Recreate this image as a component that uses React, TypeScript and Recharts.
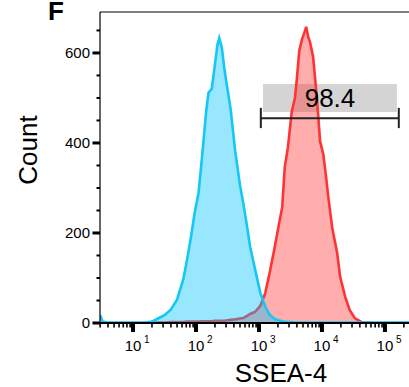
import React from "react";
import {
  ComposedChart,
  Area,
  XAxis,
  YAxis,
  ReferenceArea,
  ReferenceLine,
} from "recharts";

// fluorescence intensity (SSEA-4 channel), log axis
const intensity = [
  3.0, 3.3, 4, 6.3, 10, 16, 20, 25, 32, 40,
  50, 63, 72, 83, 95, 110, 129, 145, 158, 178,
  200, 219, 234, 257, 282, 316, 355, 417, 501, 562,
  646, 724, 871, 1050, 1260, 1480, 1780, 2000, 2340, 2570,
  2880, 3310, 3720, 3980, 4370, 4790, 5250, 5620, 6030, 6460,
  7240, 7940, 8710, 9330, 10500, 11500, 12600, 14500, 17400, 19500,
  23400, 27500, 33100, 42700, 63100, 100000, 158000, 269000,
];

// isotype / unstained control (blue)
const controlCounts = [
  18, 3, 1, 1, 1, 1, 3, 10, 18, 30,
  52, 98, 140, 190, 244, 290, 391, 470, 512, 520,
  575, 618, 633, 612, 565, 520, 475, 384, 305, 267,
  215, 169, 118, 67, 36, 18, 9, 6, 4, 3,
  2, 2, 1, 1, 1, 1, 1, 1, 1, 1,
  1, 1, 1, 1, 1, 1, 1, 1, 1, 1,
  1, 1, 1, 1, 1, 1, 1, 1,
];

// SSEA-4 stained (red)
const ssea4Counts = [
  0, 0, 0, 0, 0, 0, 1, 1, 1, 2,
  2, 2, 3, 3, 3, 3, 4, 4, 4, 4,
  5, 5, 5, 5, 5, 6, 7, 8, 10, 11,
  16, 20, 25, 38, 67, 112, 169, 207, 258, 347,
  390, 469, 500, 540, 605, 629, 645, 658, 636, 624,
  591, 530, 462, 404, 375, 330, 280, 213, 156, 102,
  58, 29, 11, 2, 0, 0, 0, 0,
];

const xMajorTicks = [10, 100, 1000, 10000, 100000];
const yTicks = [0, 50, 100, 150, 200, 250, 300, 350, 400, 450, 500, 550, 600, 650];
const yLabelTicks = [0, 200, 400, 600];

const gateLabel = "98.4";
const gateRange = [1070, 166000];
const gateLevel = 455;
const gateCap = [433, 478];
const gateBox = { x1: 1160, x2: 155000, y1: 469, y2: 531 };

const X_DOMAIN = [2.99, 269000];
const Y_MAX = 691;

const FONT = "'Liberation Sans', Arial, Helvetica, sans-serif";

const data = intensity.map((v, i) => ({
  intensity: v,
  control: controlCounts[i],
  ssea4: ssea4Counts[i],
}));

// minor ticks 2..9 x each decade inside the domain
const xMinorTicks: number[] = [];
for (let d = 1; d <= 100000; d *= 10) {
  for (let m = 2; m <= 9; m++) {
    const v = m * d;
    if (v >= X_DOMAIN[0] && v <= X_DOMAIN[1]) xMinorTicks.push(v);
  }
}
const xTicks = [...xMajorTicks, ...xMinorTicks].sort((a, b) => a - b);

function XTick(props: any) {
  const { x, y, payload } = props;
  const v = payload.value;
  if (!xMajorTicks.includes(v)) {
    return <line x1={x} x2={x} y1={y} y2={y + 4.5} stroke="#000" strokeWidth={1.6} />;
  }
  const exp = Math.round(Math.log10(v));
  return (
    <g>
      <rect x={x - 2} y={y} width={4} height={9} fill="#000" />
      <text x={x} y={y + 28} textAnchor="middle" fontSize={15} fontFamily={FONT} fill="#000">
        10
      </text>
      <text x={x + 11} y={y + 20} fontSize={10} fontFamily={FONT} fill="#000">
        {exp}
      </text>
    </g>
  );
}

function YTick(props: any) {
  const { x, y, payload } = props;
  const v = payload.value;
  if (!yLabelTicks.includes(v)) {
    return <line x1={x - 3.5} x2={x} y1={y} y2={y} stroke="#000" strokeWidth={2} />;
  }
  return (
    <g>
      <rect x={x - 7.5} y={y - 1.5} width={7.5} height={3} fill="#000" />
      <text x={x - 10} y={y + 5} textAnchor="end" fontSize={15} fontFamily={FONT} fill="#000">
        {v}
      </text>
    </g>
  );
}

export default function App() {
  return (
    <div
      style={{
        position: "absolute",
        left: 0,
        top: 0,
        width: 409,
        height: 387,
        overflow: "hidden",
        background: "#fff",
      }}
    >
      <div
        style={{
          position: "absolute",
          left: 48,
          top: -4,
          fontFamily: FONT,
          fontWeight: "bold",
          fontSize: 26,
        }}
      >
        F
      </div>
      <ComposedChart
        width={420}
        height={387}
        data={data}
        margin={{ top: 12, right: 8, bottom: 34, left: 40 }}
      >
        <XAxis
          dataKey="intensity"
          type="number"
          scale="log"
          domain={X_DOMAIN}
          allowDataOverflow
          ticks={xTicks}
          interval={0}
          tick={(p: any) => <XTick {...p} />}
          tickLine={false}
          tickSize={0}
          tickMargin={0}
          height={30}
          axisLine={{ stroke: "#000", strokeWidth: 2.2 }}
          label={{
            content: () => (
              <text x={281} y={382} textAnchor="middle" fontSize={26} fontFamily={FONT} fill="#000">
                SSEA-4
              </text>
            ),
          }}
        />
        <YAxis
          type="number"
          domain={[0, Y_MAX]}
          allowDataOverflow
          ticks={yTicks}
          interval={0}
          tick={(p: any) => <YTick {...p} />}
          tickLine={false}
          tickSize={0}
          tickMargin={0}
          width={60}
          axisLine={{ stroke: "#000", strokeWidth: 1.2 }}
          label={{
            content: () => (
              <text
                x={37}
                y={150}
                textAnchor="middle"
                fontSize={26}
                fontFamily={FONT}
                fill="#000"
                transform="rotate(-90, 37, 150)"
              >
                Count
              </text>
            ),
          }}
        />
        <ReferenceLine y={Y_MAX} stroke="#000" strokeWidth={1.2} />
        <ReferenceArea
          x1={gateBox.x1}
          x2={gateBox.x2}
          y1={gateBox.y1}
          y2={gateBox.y2}
          fill="#d4d4d4"
          fillOpacity={1}
          stroke="none"
          zIndex={50}
        />
        <Area
          type="linear"
          dataKey="ssea4"
          stroke="#ff3333"
          strokeWidth={2.6}
          fill="#ff3333"
          fillOpacity={0.4}
          dot={false}
          activeDot={false}
          isAnimationActive={false}
        />
        <Area
          type="linear"
          dataKey="control"
          stroke="#14c8f5"
          strokeWidth={2.6}
          fill="#00c4ff"
          fillOpacity={0.4}
          dot={false}
          activeDot={false}
          isAnimationActive={false}
        />
        <ReferenceLine
          segment={[
            { x: gateRange[0], y: gateLevel },
            { x: gateRange[1], y: gateLevel },
          ]}
          stroke="#222"
          strokeWidth={2}
        />
        <ReferenceLine
          segment={[
            { x: gateRange[0], y: gateCap[0] },
            { x: gateRange[0], y: gateCap[1] },
          ]}
          stroke="#222"
          strokeWidth={2}
        />
        <ReferenceLine
          segment={[
            { x: gateRange[1], y: gateCap[0] },
            { x: gateRange[1], y: gateCap[1] },
          ]}
          stroke="#222"
          strokeWidth={2}
        />
        <ReferenceArea
          x1={gateBox.x1}
          x2={gateBox.x2}
          y1={gateBox.y1}
          y2={gateBox.y2}
          fill="none"
          fillOpacity={0}
          stroke="none"
          label={{
            value: gateLabel,
            position: "center",
            fontSize: 26,
            fontFamily: FONT,
            fill: "#000",
          }}
        />
      </ComposedChart>
    </div>
  );
}
